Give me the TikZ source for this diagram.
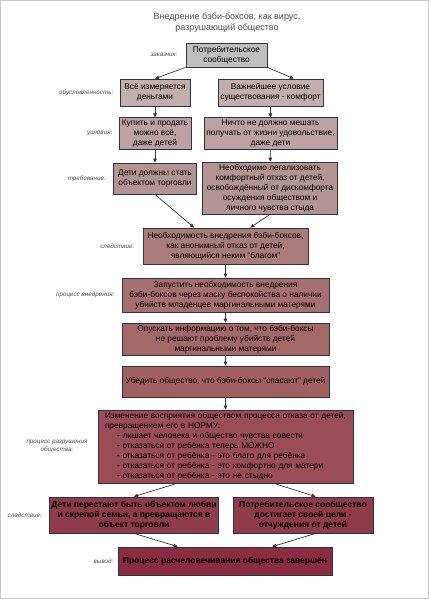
\documentclass[tikz,border=0pt]{standalone}
\usepackage{fontspec}
\setmainfont{Liberation Sans}
\usetikzlibrary{arrows.meta,positioning,calc}
\definecolor{bbFrame}{HTML}{C8C8C8}
\definecolor{bbInk}  {HTML}{333333}
\definecolor{bbMute} {HTML}{4A4A4A}
\definecolor{st1} {HTML}{BFBFBF}
\definecolor{st2} {HTML}{C3AEAE}
\definecolor{st3} {HTML}{BCA2A2}
\definecolor{st4} {HTML}{B39494}
\definecolor{st5} {HTML}{A97B7B}
\definecolor{st6} {HTML}{A67070}
\definecolor{st7} {HTML}{A36868}
\definecolor{st8} {HTML}{A06061}
\definecolor{st9} {HTML}{9A4D58}
\definecolor{st10}{HTML}{8F3B4B}
\definecolor{st11}{HTML}{8A2C43}

\begin{document}
\begin{tikzpicture}[x=1pt,y=-1pt,font=\fontsize{8.3}{10}\selectfont,
      stage/.style={draw=bbInk,line width=0.8pt,text=black,align=center,
                    inner sep=2pt},
      bold/.style={font=\fontsize{8.5}{10}\selectfont\bfseries},
      tag/.style={text=bbMute,inner sep=0pt,align=right,
                  font=\fontsize{6.3}{7.6}\selectfont\itshape},
      flow/.style={-{Triangle[length=4pt,width=3.6pt]},bbInk,line width=0.7pt}]

    % page frame
    \useasboundingbox (0,0) rectangle (429,600);
    \draw[bbFrame,line width=1pt] (0.5,0.5) rectangle (428,598);

    \node[text=bbMute,align=center,font=\fontsize{9}{11}\selectfont]
      (title) at (227,22.5) {Внедрение бэби-боксов, как вирус,\\разрушающий общество};

    \node[stage,fill=st1,minimum width=81pt,minimum height=24pt]
      (b1) at (226.5,55) {Потребительское\\сообщество};

    \node[stage,fill=st2,minimum width=70pt,minimum height=27pt]
      (b2a) at (155,92.5) {Всё измеряется\\деньгами};
    \node[stage,fill=st2,minimum width=105pt,minimum height=27pt]
      (b2b) at (270.5,92.5) {Важнейшее условие\\существования - комфорт};

    \node[stage,fill=st3,minimum width=72pt,minimum height=31pt]
      (b3a) at (155,133.5) {Купить и продать\\можно всё,\\даже детей};
    \node[stage,fill=st3,minimum width=133pt,minimum height=31pt]
      (b3b) at (270.5,133.5) {Ничто не должно мешать\\получать от жизни удовольствие,\\даже дети};

    \node[stage,fill=st4,minimum width=83pt,minimum height=31pt]
      (b4a) at (155,178.5) {Дети должны стать\\объектом торговли};
    \node[stage,fill=st4,minimum width=135pt,minimum height=50pt]
      (b4b) at (270,188) {Необходимо легализовать\\комфортный отказ от детей,\\освобождённый от дискомфорта\\осуждения обществом и\\личного чувства стыда};

    \node[stage,fill=st5,minimum width=165pt,minimum height=36pt]
      (b5) at (225.5,246) {Необходимость внедрения бэби-боксов,\\как анонимный отказ от детей,\\являющийся неким ``благом''};

    \node[stage,fill=st6,minimum width=207pt,minimum height=34pt]
      (b6) at (225.5,295) {Запустить необходимость внедрения\\бэби-боксов через маску беспокойства о наличии\\убийств младенцев маргинальными матерями};
    \node[stage,fill=st7,minimum width=207pt,minimum height=30pt]
      (b7) at (225.5,339) {Опускать информацию о том, что бэби-боксы\\не решают проблему убийств детей\\маргинальными матерями};
    \node[stage,fill=st8,minimum width=207pt,minimum height=31pt]
      (b8) at (225.5,381.5) {Убедить общество, что бэби-боксы ``спасают'' детей};

    \node[stage,fill=st9,minimum width=255pt,minimum height=73pt,
          text width=241pt,align=left]
      (b9) at (225.5,446.5) {Изменение восприятия обществом процесса отказа от детей,\\
        превращением его в НОРМУ:\\
        \hspace*{12pt}- лишает человека и общество чувства совести\\
        \hspace*{12pt}- отказаться от ребёнка теперь МОЖНО\\
        \hspace*{12pt}- отказаться от ребёнка - это благо для ребёнка\\
        \hspace*{12pt}- отказаться от ребёнка - это комфортно для матери\\
        \hspace*{12pt}- отказаться от ребёнка - это не стыдно};

    \node[stage,bold,fill=st10,minimum width=168pt,minimum height=36pt]
      (b10a) at (134,515) {Дети перестают быть объектом любви\\и скрепой семьи, а превращаются в\\объект торговли};
    \node[stage,bold,fill=st10,minimum width=140pt,minimum height=36pt]
      (b10b) at (303,515) {Потребительское сообщество\\достигает своей цели -\\отчуждения от детей};

    \node[stage,bold,fill=st11,minimum width=214pt,minimum height=28pt]
      (b11) at (225,561) {Процесс расчеловечивания общества завершён};

    % what each row stands for
    \node[tag,left=8pt of b1]   (t1) {заказчик:};
    \node[tag,left=6pt of b2a]  (t2) {обусловленность:};
    \node[tag,left=6pt of b3a]  (t3) {условия:};
    \node[tag,left=7pt of b4a]  (t4) {требование:};
    \node[tag,left=8pt of b5]   (t5) {следствие:};
    \node[tag,left=7pt of b6]   (t6) {процесс внедрения:};
    \node[tag,left=10pt of b9,align=center] (t9) {процесс разрушения\\общества:};
    \node[tag,left=7pt of b10a] (t10) {следствие:};
    \node[tag,left=4pt of b11]  (t11) {вывод:};

    \draw[flow] (b1.south west) -- (b2a.north);
    \draw[flow] (b1.south east) -- ($(b2b.north west)!0.72!(b2b.north east)$);
    \foreach \a/\b in {b2a/b3a,b3a/b4a,b2b/b3b,b3b/b4b,b5/b6,b6/b7,b7/b8,b8/b9}
      \draw[flow] (\a) -- (\b);
    \draw[flow] (b4a.south) -- ($(b5.north west)!0.31!(b5.north east)$);
    \draw[flow] (b4b.south) -- ($(b5.north west)!0.65!(b5.north east)$);
    \draw[flow] ($(b9.south west)!0.31!(b9.south east)$) -- (b10a.north);
    \draw[flow] ($(b9.south west)!0.69!(b9.south east)$)
      -- ($(b10b.north west)!0.59!(b10b.north east)$);
    \draw[flow] (b10a.south) -- ($(b11.north west)!0.28!(b11.north east)$);
    \draw[flow] ($(b10b.south west)!0.59!(b10b.south east)$)
      -- ($(b11.north west)!0.72!(b11.north east)$);
  \end{tikzpicture}
\end{document}
